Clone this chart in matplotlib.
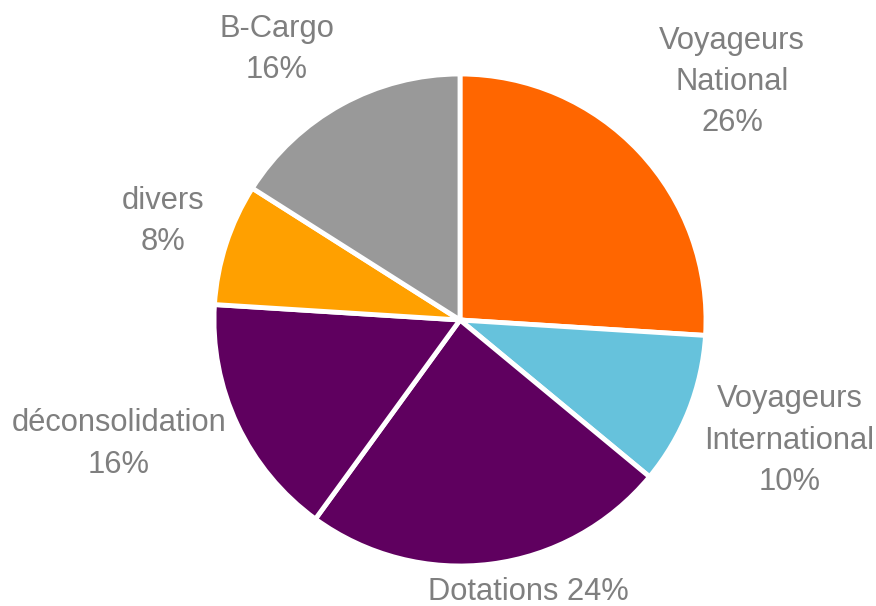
import matplotlib
matplotlib.use('Agg')
import matplotlib.pyplot as plt

# data
labels = ['Voyageurs\nNational\n26%', 'Voyageurs\nInternational\n10%', 'Dotations 24%',
          'déconsolidation\n16%', 'divers\n8%', 'B-Cargo\n16%']
values = [26, 10, 24, 16, 8, 16]
colors = ['#FF6600', '#66C2DC', '#5F005F', '#5F005F', '#FFA000', '#999999']

# label positions (in units of radius)
label_pos = [(1.106, 0.967), (1.34, -0.49), (0.276, -1.106),
             (-1.386, -0.504), (-1.207, 0.40), (-0.744, 1.10)]

plt.rcParams['font.family'] = ['Liberation Sans', 'DejaVu Sans']

fig = plt.figure(figsize=(8.76, 6.06), dpi=100)
cx, cy, r = 460, 606 - 320, 246
ax = fig.add_axes([(cx - r) / 876, (cy - r) / 606, 2 * r / 876, 2 * r / 606])
ax.pie(values, colors=colors, startangle=90, counterclock=False, radius=1,
       wedgeprops=dict(edgecolor='white', linewidth=3.5))
ax.set_xlim(-1, 1)
ax.set_ylim(-1, 1)
ax.set_aspect('equal')
ax.axis('off')

for lab, (x, y) in zip(labels, label_pos):
    ax.text(x, y, lab, ha='center', va='center', color='#7F7F7F',
            fontsize=22.2, linespacing=1.49, clip_on=False)

fig.savefig('out.png', dpi=100)
